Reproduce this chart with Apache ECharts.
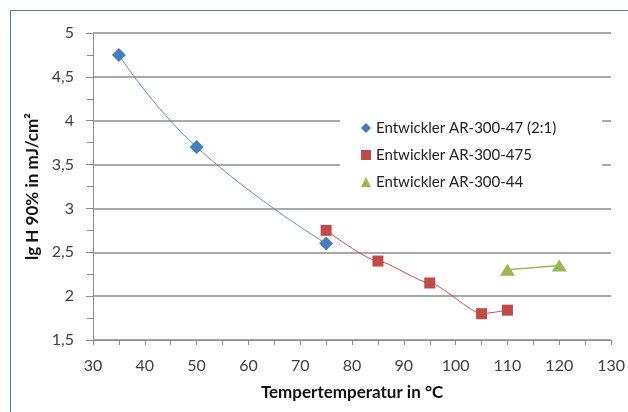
<!DOCTYPE html>
<html><head><meta charset="utf-8">
<script src="https://cdn.jsdelivr.net/npm/echarts@6/dist/echarts.min.js"></script>
<style>html,body{margin:0;padding:0;background:#fff}#c{width:628px;height:412px}</style>
</head><body><div id="c"></div>
<script>
const seriesNames = ['Entwickler AR-300-47 (2:1)', 'Entwickler AR-300-475', 'Entwickler AR-300-44'];
const xBlue = [35, 50, 75];
const yBlue = [4.75, 3.7, 2.6];
const xRed = [75, 85, 95, 105, 110];
const yRed = [2.75, 2.4, 2.15, 1.8, 1.84];
const xGreen = [110, 120];
const yGreen = [2.3, 2.35];
const xTicks = [30, 40, 50, 60, 70, 80, 90, 100, 110, 120, 130];
const yTicks = [1.5, 2, 2.5, 3, 3.5, 4, 4.5, 5];
const xTitle = 'Tempertemperatur in °C';
const yTitle = 'lg H 90% in mJ/cm²';

const pairs = (xs, ys) => xs.map((x, i) => [x, ys[i]]);
const FONT = 'Lato';
const chart = echarts.init(document.getElementById('c'), null, {renderer: 'canvas'});
chart.setOption({
  animation: false,
  backgroundColor: '#fff',
  textStyle: {fontFamily: FONT},
  graphic: [{type: 'rect', shape: {x: 10.5, y: 10.5, width: 700, height: 500},
    style: {fill: 'none', stroke: '#4a7ebb', lineWidth: 1}, silent: true, z: -10}],
  grid: {left: 93, right: 10, top: 33, bottom: 72, containLabel: false},
  legend: {
    orient: 'vertical', left: 340, top: 108,
    padding: [12, 46, 12, 21],
    backgroundColor: '#fff',
    itemGap: 11, itemWidth: 10, itemHeight: 10,
    textStyle: {fontFamily: FONT, fontSize: 15, color: '#222', lineHeight: 16},
    data: [
      {name: seriesNames[0], icon: 'diamond'},
      {name: seriesNames[1], icon: 'rect'},
      {name: seriesNames[2], icon: 'triangle'}
    ]
  },
  xAxis: {
    type: 'value', min: xTicks[0], max: xTicks[xTicks.length - 1], interval: 10,
    name: xTitle, nameLocation: 'middle', nameGap: 44,
    nameTextStyle: {fontFamily: FONT, fontSize: 17, fontWeight: 'bold', color: '#111'},
    axisLine: {show: true, lineStyle: {color: '#8c8c8c', width: 1}},
    axisTick: {show: true, length: 5, lineStyle: {color: '#8c8c8c'}},
    minorTick: {show: true, splitNumber: 2, length: 5, lineStyle: {color: '#8c8c8c'}},
    axisLabel: {fontSize: 16, color: '#404040', margin: 18},
    splitLine: {show: false}
  },
  yAxis: {
    type: 'value', min: yTicks[0], max: yTicks[yTicks.length - 1], interval: 0.5,
    name: yTitle, nameLocation: 'middle', nameGap: 49, nameRotate: 90,
    nameTextStyle: {fontFamily: FONT, fontSize: 17, fontWeight: 'bold', color: '#111'},
    axisLine: {show: true, lineStyle: {color: '#8c8c8c', width: 1}},
    axisTick: {show: true, length: 7, lineStyle: {color: '#8c8c8c'}},
    minorTick: {show: true, splitNumber: 2, length: 6, lineStyle: {color: '#8c8c8c'}},
    axisLabel: {fontSize: 16, color: '#404040', margin: 19,
      formatter: v => String(v).replace('.', ',')},
    splitLine: {show: true, lineStyle: {color: '#8c8c8c', width: 1.5}}
  },
  series: [
    {name: seriesNames[0], type: 'line', data: pairs(xBlue, yBlue), smooth: 0.5,
      symbol: 'diamond', symbolSize: 14, showAllSymbol: true,
      itemStyle: {color: '#4a7ebb'}, lineStyle: {color: '#5b8ec6', width: 1}, z: 3},
    {name: seriesNames[1], type: 'line', data: pairs(xRed, yRed), smooth: 0.2,
      smoothMonotone: 'x',
      symbol: 'rect', symbolSize: 11,
      itemStyle: {color: '#be4b48'}, lineStyle: {color: '#c0504d', width: 1}, z: 3},
    {name: seriesNames[2], type: 'line', data: pairs(xGreen, yGreen),
      symbol: 'triangle', symbolSize: [15, 12],
      itemStyle: {color: '#98b954'}, lineStyle: {color: '#9bbb59', width: 1.5}, z: 3}
  ]
});
</script></body></html>
